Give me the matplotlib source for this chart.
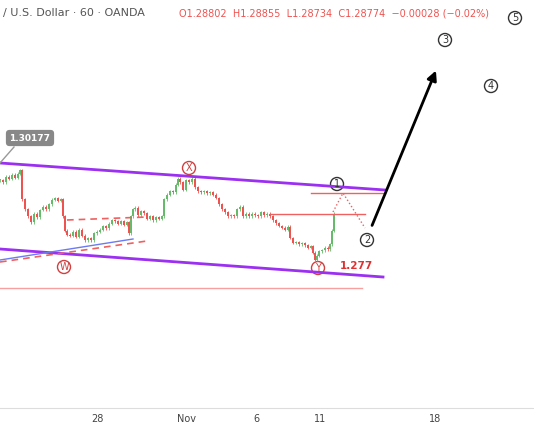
import matplotlib
matplotlib.use("Agg")
import matplotlib.pyplot as plt
from matplotlib.patches import Ellipse

# price path (bar position, close price)
bar_x = [0, 3, 6, 9, 12, 15, 18, 20, 22, 25, 28, 31, 34, 37, 40, 43, 46, 49, 52, 55, 58, 61, 63,
         65, 67, 70, 73, 76, 79, 82, 85, 88, 91, 94, 97, 100, 103, 106, 109, 112, 115, 118, 121,
         124, 127, 129, 131, 133, 135, 138, 141, 144, 147, 150, 153, 156, 159, 162, 164, 167, 170,
         173, 176, 178, 180, 183, 186, 189, 192, 195, 198, 201, 204, 207, 210, 213, 216, 219, 222,
         225, 228, 231, 234, 237, 240, 243, 246, 249, 252, 255, 258, 261, 264, 267, 270, 273, 276,
         279, 282, 285, 288, 290, 293, 296, 299, 302, 305, 308, 311, 313, 315, 317, 319, 322, 325,
         328, 330, 332, 334]
close = [1.2955, 1.2950, 1.2962, 1.2958, 1.2966, 1.2960, 1.2968, 1.2975, 1.2915, 1.2895, 1.2880,
         1.2868, 1.2885, 1.2878, 1.2893, 1.2900, 1.2895, 1.2905, 1.2914, 1.2918, 1.2912, 1.2915,
         1.2880, 1.2850, 1.2842, 1.2840, 1.2848, 1.2838, 1.2852, 1.2840, 1.2830, 1.2835, 1.2830,
         1.2845, 1.2848, 1.2852, 1.2860, 1.2855, 1.2865, 1.2872, 1.2870, 1.2865, 1.2870, 1.2862,
         1.2868, 1.2845, 1.2880, 1.2895, 1.2898, 1.2882, 1.2890, 1.2886, 1.2875, 1.2880, 1.2872,
         1.2878, 1.2875, 1.2880, 1.2915, 1.2925, 1.2932, 1.2930, 1.2945, 1.2958, 1.2950, 1.2935,
         1.2955, 1.2950, 1.2958, 1.2940, 1.2932, 1.2930, 1.2932, 1.2928, 1.2930, 1.2925, 1.2918,
         1.2905, 1.2895, 1.2888, 1.2880, 1.2882, 1.2880, 1.2895, 1.2900, 1.2880, 1.2885, 1.2880,
         1.2885, 1.2882, 1.2880, 1.2888, 1.2882, 1.2885, 1.2880, 1.2872, 1.2866, 1.2860, 1.2856,
         1.2852, 1.2858, 1.2835, 1.2825, 1.2826, 1.2822, 1.2824, 1.2820, 1.2815, 1.2818, 1.2805,
         1.2790, 1.2798, 1.2808, 1.2810, 1.2815, 1.2812, 1.2822, 1.2850, 1.2885]

day_ticks = [97, 186, 256, 320, 435]
day_labels = ["28", "Nov", "6", "11", "18"]

# scale: pixel row -> price
def px(py):
    return 1.2773 + (268 - py) * 0.000207

PURPLE, RED = "#9b30f0", "#f06060"

fig = plt.figure(figsize=(5.34, 4.29), dpi=100, facecolor="white")
ax = fig.add_axes([0, 21 / 429, 1, 408 / 429])
ax.set_xlim(0, 534)
ax.set_ylim(px(408), px(0))

opens = [close[0]] + close[:-1]
for x, o, c in zip(bar_x, opens, close):
    col = "#66bb6a" if c >= o else "#ef5350"
    hi, lo = max(o, c) + 0.0003, min(o, c) - 0.0003
    ax.vlines(x, lo, hi, color=col, lw=0.6)
    ax.bar(x, max(abs(c - o), 0.00015), bottom=min(o, c), width=1.6, color=col, lw=0)

def seg(p, q, **kw):
    ax.plot([p[0], q[0]], [px(p[1]), px(q[1])], **kw)

seg((0, 163), (385, 190), color=PURPLE, lw=2)
seg((0, 249), (383, 277), color=PURPLE, lw=2)
seg((0, 288), (362, 288), color="#f8a0a0", lw=1)
seg((270, 214), (365, 214), color=RED, lw=1)
seg((311, 193), (385, 193), color=RED, lw=1)
seg((67, 220), (147, 217), color=RED, lw=1.2, ls=(0, (4, 3)))
seg((0, 262), (147, 241), color=RED, lw=1.2, ls=(0, (4, 3)))
seg((0, 260), (133, 239), color="#6b7bf0", lw=1)
ax.plot([333, 343, 365], [px(212), px(193), px(228)], color=RED, lw=1, ls=":")
ax.annotate("", xy=(437, px(68)), xytext=(371, px(228)),
            arrowprops=dict(arrowstyle="-|>", color="black", lw=2, mutation_scale=14))

labels = [("W", 64, 267, "#d04040"), ("X", 189, 168, "#d04040"), ("Y", 318, 268, "#d04040"),
          ("1", 337, 184, "#333"), ("2", 367, 240, "#333"), ("3", 445, 40, "#333"),
          ("4", 491, 86, "#333"), ("5", 515, 18, "#333")]
for t, x, y, c in labels:
    ax.add_patch(Ellipse((x, px(y)), 13, 13 * 0.000207, fill=False, ec=c, lw=1))
    ax.text(x, px(y), t, color=c, fontsize=7, ha="center", va="center")

ax.text(340, px(266), "1.277", color="#e03030", fontsize=7.5, fontweight="bold", va="center")
seg((0, 163), (14, 147), color="#999", lw=1)
ax.text(30, px(138), "1.30177", color="white", fontsize=6.5, fontweight="bold", ha="center",
        va="center", bbox=dict(boxstyle="round,pad=0.4", fc="#888", ec="none"))

ax.set_xticks(day_ticks)
ax.set_xticklabels(day_labels)
ax.set_yticks([])
ax.tick_params(axis="x", length=0, labelsize=7, colors="#444", pad=4)
for s in ["top", "left", "right"]:
    ax.spines[s].set_visible(False)
ax.spines["bottom"].set_color("#ddd")

fig.text(0.005, 1 - 13 / 429, "/ U.S. Dollar · 60 · OANDA", fontsize=8, color="#555", va="center")
fig.text(0.335, 1 - 13 / 429, "O1.28802  H1.28855  L1.28734  C1.28774  −0.00028 (−0.02%)",
         fontsize=7, color="#ef5350", va="center")
fig.savefig("out.png", dpi=100, facecolor="white")
